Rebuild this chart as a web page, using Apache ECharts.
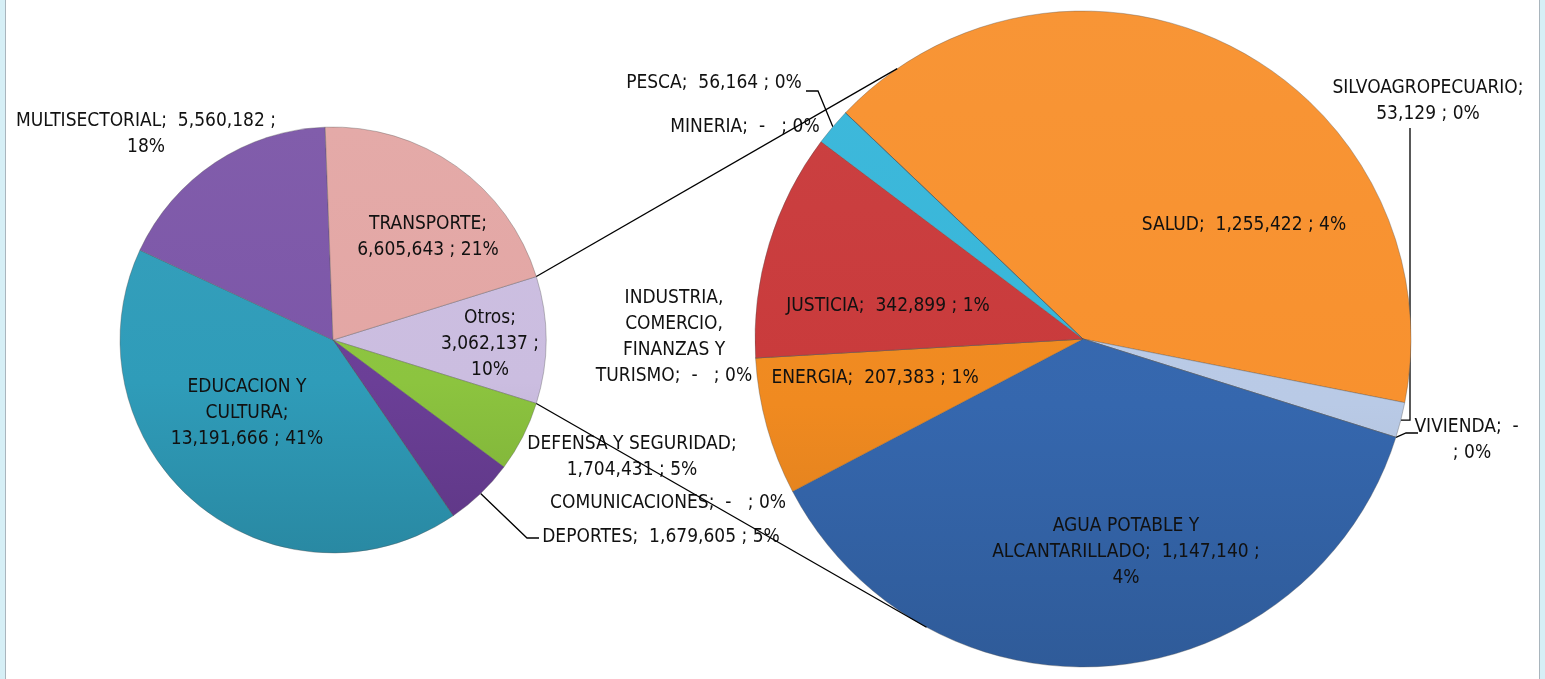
<!DOCTYPE html>
<html>
<head>
<meta charset="utf-8">
<script src="https://cdn.jsdelivr.net/npm/echarts@6/dist/echarts.min.js"></script>
<style>
html, body { margin: 0; padding: 0; background: #fff; }
#chart { width: 1545px; height: 679px; }
.edge { position: absolute; top: 0; height: 679px; width: 5px; background: #d6eff6; }
</style>
</head>
<body>
<div id="chart"></div>
<div class="edge" style="left:0;border-right:1px solid #a9b5bd"></div>
<div class="edge" style="left:1539px;border-left:1px solid #a9b5bd"></div>
<script>
// datos - primer pastel (total) y pastel secundario (Otros)
var mainNames = ['Otros', 'DEFENSA Y SEGURIDAD', 'DEPORTES', 'COMUNICACIONES', 'EDUCACION Y CULTURA', 'MULTISECTORIAL', 'TRANSPORTE'];
var mainValues = [3062137, 1704431, 1679605, 0, 13191666, 5560182, 6605643];
var otrosNames = ['SALUD', 'SILVOAGROPECUARIO', 'VIVIENDA', 'AGUA POTABLE Y ALCANTARILLADO', 'ENERGIA', 'INDUSTRIA, COMERCIO, FINANZAS Y TURISMO', 'JUSTICIA', 'PESCA', 'MINERIA'];
var otrosValues = [1255422, 53129, 0, 1147140, 207383, 0, 342899, 56164, 0];

var mainColors = ['#cbbde0', '#8cc43f', '#6b3f97', '#4a7fc0', '#2f9cb9', '#7c56a8', '#e3a6a4'];
var otrosColors = ['#f8912e', '#b9cae6', '#9db4dc', '#3567ae', '#f08a20', '#c0c0c0', '#c93a3b', '#37b6d9', '#999'];

// posicion de etiquetas (x, y centro), saltos de linea en el nombre, plantilla
var mainLabels = [
    {x: 490, y: 344, brk: [], tpl: '{n};\n{v} ;\n{p}'},
    {x: 632, y: 457, brk: [], tpl: '{n};\n{v} ; {p}'},
    {x: 661, y: 537, brk: [], tpl: '{n};  {v} ; {p}', line: [[527, 538], [539, 538]]},
    {x: 668, y: 503, brk: [], tpl: '{n};  {v} ; {p}'},
    {x: 247, y: 413, brk: [1], tpl: '{n};\n{v} ; {p}'},
    {x: 146, y: 134, brk: [], tpl: '{n};  {v} ;\n{p}'},
    {x: 428, y: 237, brk: [], tpl: '{n};\n{v} ; {p}'}
];
var otrosLabels = [
    {x: 1244, y: 225, brk: [], tpl: '{n};  {v} ; {p}'},
    {x: 1428, y: 101, brk: [], tpl: '{n};\n{v} ; {p}', line: [[1410, 420], [1410, 128]]},
    {x: 1472, y: 440, brk: [], tpl: '{n};  {v}\n; {p}', line: [[1406, 433], [1418, 433]]},
    {x: 1126, y: 552, brk: [2], tpl: '{n};  {v} ;\n{p}'},
    {x: 875, y: 378, brk: [], tpl: '{n};  {v} ; {p}'},
    {x: 674, y: 337, brk: [0, 1, 3], tpl: '{n};  {v} ; {p}'},
    {x: 888, y: 306, brk: [], tpl: '{n};  {v} ; {p}'},
    {x: 714, y: 83, brk: [], tpl: '{n};  {v} ; {p}', line: [[818, 91], [806, 91]]},
    {x: 745, y: 127, brk: [], tpl: '{n};  {v} ; {p}'}
];

var C1 = [333, 340], R1 = 213;
var C2 = [1083, 339], R2 = 328;

var total = mainValues.reduce(function (a, b) { return a + b; }, 0);
var halfOtros = mainValues[0] / total * 180;

// porcentajes del primer pastel redondeados para sumar 100 (como Excel)
var mainPct = (function () {
    var raw = mainValues.map(function (v) { return v / total * 100; });
    var fl = raw.map(Math.floor);
    var rest = 100 - fl.reduce(function (a, b) { return a + b; }, 0);
    var idx = raw.map(function (r, i) { return i; }).sort(function (a, b) { return (raw[b] - fl[b]) - (raw[a] - fl[a]); });
    for (var k = 0; k < rest; k++) fl[idx[k]]++;
    return fl;
})();
var otrosPct = otrosValues.map(function (v) { return Math.round(v / total * 100); });

function shade(hex, f) {
    var n = parseInt(hex.slice(1), 16);
    var r = n >> 16, g = (n >> 8) & 255, b = n & 255;
    function c(v) { return Math.max(0, Math.min(255, Math.round(f > 0 ? v + (255 - v) * f : v * (1 + f)))); }
    return 'rgb(' + c(r) + ',' + c(g) + ',' + c(b) + ')';
}
function grad(hex, c, r) {
    return {
        type: 'linear', x: 0, y: c[1] - r, x2: 0, y2: c[1] + r, global: true,
        colorStops: [{offset: 0, color: shade(hex, 0.04)}, {offset: 0.6, color: hex}, {offset: 1, color: shade(hex, -0.12)}]
    };
}
function splitName(name, brk) {
    var w = name.split(' '), s = '';
    for (var i = 0; i < w.length; i++) {
        s += w[i];
        if (i < w.length - 1) s += brk.indexOf(i) >= 0 ? '\n' : ' ';
    }
    return s;
}
function labelText(name, value, pct, L) {
    var v = value === 0 ? '-  ' : value.toLocaleString('en-US');
    return L.tpl.replace('{n}', splitName(name, L.brk)).replace('{v}', v).replace('{p}', pct + '%');
}
function buildData(names, values, pcts, colors, labels, c, r) {
    return names.map(function (n, i) {
        return {
            name: n, value: values[i],
            itemStyle: {color: grad(colors[i], c, r)},
            label: {formatter: labelText(n, values[i], pcts[i], labels[i])},
            labelLine: {show: !!labels[i].line}
        };
    });
}
function layoutFn(labels) {
    return function (p) {
        var L = labels[p.dataIndex];
        var out = {x: L.x, y: L.y, align: 'center', verticalAlign: 'middle'};
        if (L.line && p.labelLinePoints) {
            out.labelLinePoints = [p.labelLinePoints[0]].concat(L.line);
        }
        return out;
    };
}

var labelStyle = {
    show: true, position: 'outside', color: '#111',
    fontFamily: '"Liberation Sans Narrow", "DejaVu Sans Condensed", sans-serif',
    fontSize: 19, lineHeight: 26, align: 'center'
};

function edgePt(c, r, deg) {
    var a = deg * Math.PI / 180;
    return [c[0] + r * Math.cos(a), c[1] + r * Math.sin(a)];
}
var p1 = edgePt(C1, R1, -halfOtros), p2 = edgePt(C2, R2, 235.5);
var p3 = edgePt(C1, R1, halfOtros), p4 = edgePt(C2, R2, 118.5);

var myChart = echarts.init(document.getElementById('chart'));
myChart.setOption({
    animation: false,
    series: [
        {
            type: 'pie', center: C1, radius: R1,
            startAngle: halfOtros, clockwise: true,
            avoidLabelOverlap: false, silent: true,
            itemStyle: {borderColor: 'rgba(80,80,80,0.35)', borderWidth: 1},
            label: labelStyle,
            labelLine: {lineStyle: {color: '#000', width: 1.3}},
            labelLayout: layoutFn(mainLabels),
            data: buildData(mainNames, mainValues, mainPct, mainColors, mainLabels, C1, R1)
        },
        {
            type: 'pie', center: C2, radius: R2,
            startAngle: 136.4, clockwise: true,
            avoidLabelOverlap: false, silent: true,
            itemStyle: {borderColor: 'rgba(80,80,80,0.35)', borderWidth: 1},
            label: labelStyle,
            labelLine: {lineStyle: {color: '#000', width: 1.3}},
            labelLayout: layoutFn(otrosLabels),
            data: buildData(otrosNames, otrosValues, otrosPct, otrosColors, otrosLabels, C2, R2)
        }
    ],
    graphic: [
        {type: 'polyline', z: 100, shape: {points: [p1, p2]}, style: {stroke: '#000', lineWidth: 1.3}},
        {type: 'polyline', z: 100, shape: {points: [p3, p4]}, style: {stroke: '#000', lineWidth: 1.3}}
    ]
});
</script>
</body>
</html>
